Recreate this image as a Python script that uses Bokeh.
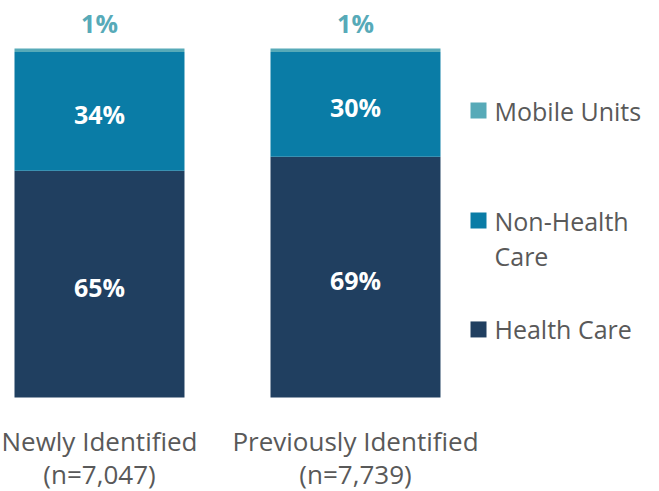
from bokeh.plotting import figure
from bokeh.models import ColumnDataSource, Range1d
from bokeh.core.properties import value
from bokeh.embed import file_html
from bokeh.resources import INLINE

categories = ["Newly Identified\n(n=7,047)", "Previously Identified\n(n=7,739)"]
health_care = [65, 69]
non_health_care = [34, 30]
mobile_units = [1, 1]
series_names = ["Mobile Units", "Non-Health\nCare", "Health Care"]

colors = {"hc": "#203f60", "nhc": "#0a7ca6", "mu": "#57aab8"}
FONT = "Open Sans"
TXT = "#595959"

W, H = 659, 491
p = figure(width=W, height=H, output_backend="svg", toolbar_location=None,
           min_border=0, min_border_left=0, min_border_right=0,
           min_border_top=0, min_border_bottom=0)
p.x_range = Range1d(-0.3867, 2.1875)
p.y_range = Range1d(-26.93, 113.75)
p.axis.visible = False
p.grid.visible = False
p.outline_line_color = None
p.background_fill_color = "white"
p.border_fill_color = "white"

xs = list(range(len(categories)))
bw = 0.664
hc_top = health_care
nhc_top = [a + b for a, b in zip(health_care, non_health_care)]
mu_top = [a + b for a, b in zip(nhc_top, mobile_units)]

src = ColumnDataSource(dict(x=xs, hc=hc_top, nhc=nhc_top, mu=mu_top,
                            zero=[0] * len(xs)))
p.vbar(x="x", bottom="zero", top="hc", width=bw, source=src,
       fill_color=colors["hc"], line_color=None)
p.vbar(x="x", bottom="hc", top="nhc", width=bw, source=src,
       fill_color=colors["nhc"], line_color=None)
p.vbar(x="x", bottom="nhc", top="mu", width=bw, source=src,
       fill_color=colors["mu"], line_color=None)

# data labels inside
lab = ColumnDataSource(dict(
    x=xs + xs,
    y=[h / 2 for h in health_care] + [h + n / 2 for h, n in zip(health_care, non_health_care)],
    t=[f"{v}%" for v in health_care] + [f"{v}%" for v in non_health_care],
))
p.text(x="x", y="y", text="t", source=lab, text_color="white",
       text_font=value(FONT), text_font_size="25px", text_font_style="bold",
       text_align="center", text_baseline="middle", y_offset=3)

top_lab = ColumnDataSource(dict(x=xs, y=mu_top, t=[f"{v}%" for v in mobile_units]))
p.text(x="x", y="y", text="t", source=top_lab, text_color=colors["mu"],
       text_font=value(FONT), text_font_size="25px", text_font_style="bold",
       text_align="center", text_baseline="middle", y_offset=-25)

# category labels (two lines each)
for li, off in enumerate([43, 76]):
    cat_src = ColumnDataSource(dict(x=xs, y=[0] * len(xs),
                                    t=[c.split("\n")[li] for c in categories]))
    p.text(x="x", y="y", text="t", source=cat_src, text_color=TXT,
           text_font=value(FONT), text_font_size="26px", text_align="center",
           text_baseline="middle", y_offset=off)

# legend (drawn manually)
leg_x = 1.4805
leg_y = [82.2, 50.7, 19.5]
leg_colors = [colors["mu"], colors["nhc"], colors["hc"]]
p.scatter(x=[leg_x] * 3, y=leg_y, marker="square", size=16,
          fill_color=leg_colors, line_color=None)
for li, off in enumerate([0, 35]):
    xs_l, ys_l, ts_l = [], [], []
    for yv, name in zip(leg_y, series_names):
        parts = name.split("\n")
        if li < len(parts):
            xs_l.append(leg_x)
            ys_l.append(yv)
            ts_l.append(parts[li])
    leg_src = ColumnDataSource(dict(x=xs_l, y=ys_l, t=ts_l))
    p.text(x="x", y="y", text="t", source=leg_src, text_color=TXT,
           text_font=value(FONT), text_font_size="25px", text_align="left",
           text_baseline="middle", x_offset=16, y_offset=off)

open("out.html", "w").write(file_html(p, INLINE))
